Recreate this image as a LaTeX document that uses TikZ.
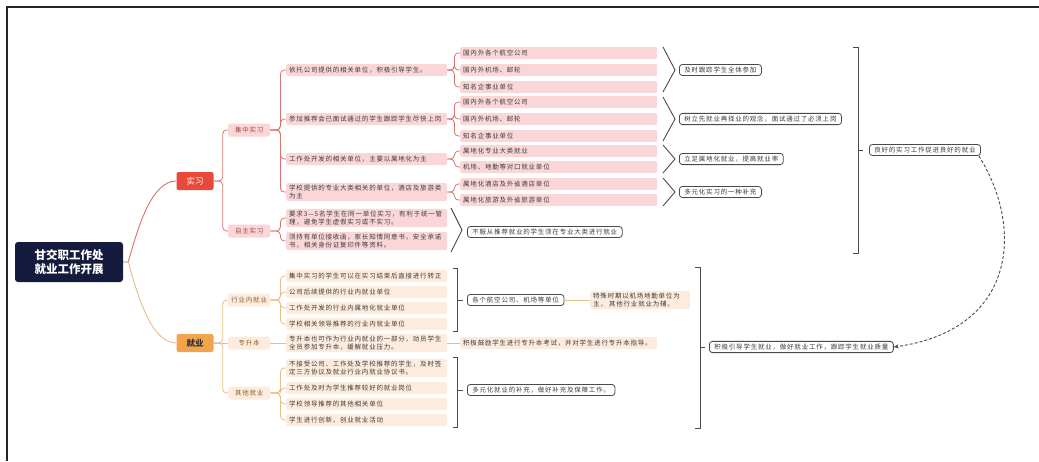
\documentclass[tikz,border=0pt]{standalone}
\usepackage{fontspec}
\setmainfont{Noto Sans CJK SC}
\newfontfamily\cjk[LetterSpace=12]{Noto Sans CJK SC}
\usetikzlibrary{arrows.meta}
\definecolor{navy}{HTML}{141B3C}
\definecolor{sxred}{HTML}{E8493B}
\definecolor{rline}{HTML}{D8746C}
\definecolor{pinkf}{HTML}{FAD6D8}
\definecolor{pinkt}{HTML}{9C4A48}
\definecolor{jyor}{HTML}{F2A44C}
\definecolor{oline}{HTML}{E6BE86}
\definecolor{peach}{HTML}{FDECDD}
\definecolor{ort}{HTML}{8C5E2E}
\definecolor{brk}{HTML}{4A4A4A}
\definecolor{txt}{HTML}{3A3A3A}
\tikzset{
  txtf/.style={font=\cjk\fontsize{6.5}{8}\selectfont},
  rootbox/.style={fill=navy, text=white, rounded corners=3, minimum width=108, minimum height=40, align=center, font=\bfseries\fontsize{11.5}{13.5}\selectfont},
  sxbox/.style={fill=sxred, text=white, rounded corners=2, minimum width=37, minimum height=18, font=\fontsize{8.5}{10}\selectfont},
  jybox/.style={fill=jyor, text=black!80, rounded corners=2, minimum width=37, minimum height=18, font=\bfseries\fontsize{8.5}{10}\selectfont},
  l2r/.style={txtf, fill=pinkf, text=pinkt, rounded corners=2, minimum width=42, minimum height=13, inner xsep=3, inner ysep=2, anchor=west},
  l2o/.style={l2r, fill=peach, text=ort},
  l3r/.style={txtf, fill=pinkf, text=txt, rounded corners=2, minimum height=12, text width=155, inner xsep=3, inner ysep=2, align=left, anchor=west},
  l3o/.style={l3r, fill=peach},
  l4r/.style={l3r, text width=191},
  l4o/.style={l4r, fill=peach},
  sumb/.style={txtf, draw=brk, line width=0.8, fill=white, rounded corners=3, inner xsep=5, inner ysep=2.5, text=txt, anchor=west},
  rl/.style={draw=rline, line width=0.8, rounded corners=4},
  ol/.style={draw=oline, line width=0.8, rounded corners=4},
  brkl/.style={draw=brk, line width=0.9},
  frame/.style={draw=black!85, line width=1.8}
}
\begin{document}
\begin{tikzpicture}[x=1pt,y=-1pt]
\useasboundingbox (0,0) rectangle (1039,461);
\draw[frame] (1039,7) -- (7,7) -- (7,461);

% root and main branches
\node[rootbox] (root) at (69,262) {甘交职工作处\\就业工作开展};
\node[sxbox] (sx) at (195,181) {实习};
\node[jybox] (jy) at (195,343) {就业};
\draw[rline, line width=0.9] (root.east) -- ++(5,0) .. controls +(10,-35) and +(-25,0) .. (sx.west);
\draw[oline, line width=0.9] (root.east) -- ++(5,0) .. controls +(10,35) and +(-25,0) .. (jy.west);

% ---------- 实习 ----------
\node[l2r] (jz) at (228,130) {集中实习};
\node[l2r] (zz) at (228,231) {自主实习};
\draw[rl] (sx.east) -- ++(9,0) |- (jz.west);
\draw[rl] (sx.east) -- ++(9,0) |- (zz.west);

\node[l3r] (a1) at (286,70) {依托公司提供的相关单位，积极引导学生。};
\node[l3r] (a2) at (286,119) {参加推荐会已面试通过的学生跟踪学生尽快上岗};
\node[l3r] (a3) at (286,159) {工作处开发的相关单位，主要以属地化为主};
\node[l3r] (a4) at (286,192) {学校提供的专业大类相关的单位，酒店及旅游类\\为主};
\foreach \c in {a1,a2,a3,a4} \draw[rl] (jz.east) -- ++(10,0) |- (\c.west);

\node[l3r] (b1) at (286,218) {要求3—5名学生在同一单位实习，有利于统一管\\理，避免学生虚假实习或不实习。};
\node[l3r] (b2) at (286,241) {须持有单位接收函，家长知情同意书，安全承诺\\书，相关身份证复印件等资料。};
\foreach \c in {b1,b2} \draw[rl] (zz.east) -- ++(10,0) |- (\c.west);

\node[l4r] (c11) at (460,53) {国内外各个航空公司};
\node[l4r] (c12) at (460,70) {国内外机场、邮轮};
\node[l4r] (c13) at (460,87) {知名企事业单位};
\node[l4r] (c21) at (460,102) {国内外各个航空公司};
\node[l4r] (c22) at (460,119) {国内外机场、邮轮};
\node[l4r] (c23) at (460,136) {知名企事业单位};
\node[l4r] (c31) at (460,151) {属地化专业大类就业};
\node[l4r] (c32) at (460,167) {机场、地勤等对口就业单位};
\node[l4r] (c41) at (460,184) {属地化酒店及外省酒店单位};
\node[l4r] (c42) at (460,200) {属地化旅游及外省旅游单位};
\foreach \c in {c11,c12,c13} \draw[rl] (a1.east) -- ++(7,0) |- (\c.west);
\foreach \c in {c21,c22,c23} \draw[rl] (a2.east) -- ++(7,0) |- (\c.west);
\foreach \c in {c31,c32} \draw[rl] (a3.east) -- ++(7,0) |- (\c.west);
\foreach \c in {c41,c42} \draw[rl] (a4.east) -- ++(7,0) |- (\c.west);

% summaries (实习)
\draw[brkl] (663,47) -- (675,70) -- (663,92);
\draw[brkl] (663,97) -- (675,119) -- (663,141);
\draw[brkl] (663,145) -- (675,159) -- (663,173);
\draw[brkl] (663,178) -- (675,192) -- (663,206);
\draw[brkl] (451,208) -- (462,230) -- (451,252);
\node[sumb] (s1) at (679,70) {及时跟踪学生全体参加};
\node[sumb] (s2) at (679,119) {树立先就业再择业的观念，面试通过了必须上岗};
\node[sumb] (s3) at (679,159) {立足属地化就业，提高就业率};
\node[sumb] (s4) at (679,192) {多元化实习的一种补充};
\node[sumb] (s5) at (467,232) {不服从推荐就业的学生须在专业大类进行就业};

\draw[brkl] (853,47) -- (858,47) -- (858,253) -- (853,253);
\draw[brkl] (858,150) -- (863,150);
\node[sumb] (big) at (869,150) {良好的实习工作促进良好的就业};

% ---------- 就业 ----------
\node[l2o] (hy) at (228,300) {行业内就业};
\node[l2o] (zsb) at (228,343) {专升本};
\node[l2o] (qt) at (228,393) {其他就业};
\draw[ol] (jy.east) -- ++(9,0) |- (hy.west);
\draw[ol] (jy.east) -- (zsb.west);
\draw[ol] (jy.east) -- ++(9,0) |- (qt.west);

\node[l3o] (d1) at (286,276) {集中实习的学生可以在实习结束后直接进行转正};
\node[l3o] (d2) at (286,292) {公司后续提供的行业内就业单位};
\node[l3o] (d3) at (286,308) {工作处开发的行业内属地化就业单位};
\node[l3o] (d4) at (286,324) {学校相关领导推荐的行业内就业单位};
\foreach \c in {d1,d2,d3,d4} \draw[ol] (hy.east) -- ++(10,0) |- (\c.west);

\node[l3o] (e1) at (286,343) {专升本也可作为行业内就业的一部分，动员学生\\全员参加专升本，缓解就业压力。};
\node[l4o] (e2) at (460,343) {积极鼓励学生进行专升本考试，并对学生进行专升本指导。};
\draw[ol] (zsb.east) -- (e1.west);
\draw[ol] (e1.east) -- (e2.west);

\node[l3o] (f1) at (286,368) {不接受公司、工作处及学校推荐的学生，及时签\\定三方协议及就业行业内就业协议书。};
\node[l3o] (f2) at (286,388) {工作处及时为学生推荐较好的就业岗位};
\node[l3o] (f3) at (286,404) {学校领导推荐的其他相关单位};
\node[l3o] (f4) at (286,420) {学生进行创新、创业就业活动};
\foreach \c in {f1,f2,f3,f4} \draw[ol] (qt.east) -- ++(10,0) |- (\c.west);

% summaries (就业)
\draw[brkl] (453,268) -- (457,268) -- (457,331) -- (453,331);
\draw[brkl] (457,300) -- (463,300);
\node[sumb] (g1) at (467,300) {各个航空公司、机场等单位};
\node[l3o, text width=94] (g2) at (590,300) {特殊时期以机场地勤单位为\\主， 其他行业就业为辅。};
\draw[ol] (g1.east) -- (g2.west);

\draw[brkl] (453,357) -- (457,357) -- (457,427) -- (453,427);
\draw[brkl] (457,390) -- (463,390);
\node[sumb] (g3) at (467,390) {多元化就业的补充，做好补充及保障工作。};

\draw[brkl] (695,267) -- (700,267) -- (700,428) -- (695,428);
\draw[brkl] (700,347) -- (705,347);
\node[sumb] (g4) at (709,347) {积极引导学生就业，做好就业工作，跟踪学生就业质量};

% dashed relation
\draw[brk, line width=0.9, dash pattern=on 3pt off 2pt, -{Stealth[length=5,width=4]}]
  ([xshift=-2]big.south east) .. controls (1025,230) and (1015,330) .. (g4.east);
\end{tikzpicture}
\end{document}
